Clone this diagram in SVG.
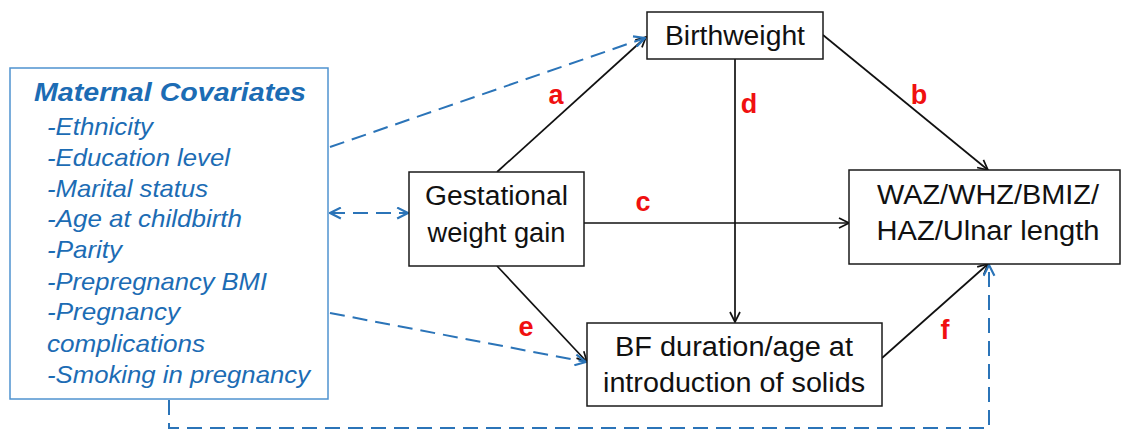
<svg xmlns="http://www.w3.org/2000/svg" width="1124" height="430" viewBox="0 0 1124 430">
  <defs>
    <style>
      .box { fill: #ffffff; stroke: #1a1a1a; stroke-width: 1.5; }
      .cov { fill: #ffffff; stroke: #4f93cf; stroke-width: 1.5; }
      .ntext { font-family: "Liberation Sans", Arial, sans-serif; font-size: 27px; fill: #111111; text-anchor: middle; }
      .ctitle { font-family: "Liberation Sans", Arial, sans-serif; font-size: 26px; font-weight: bold; font-style: italic; fill: #1c6cb4; }
      .citem { font-family: "Liberation Sans", Arial, sans-serif; font-size: 24px; font-style: italic; fill: #1c6cb4; }
      .lbl { font-family: "Liberation Sans", Arial, sans-serif; font-size: 27px; font-weight: bold; fill: #f01010; text-anchor: middle; }
      .solid { fill: none; stroke: #111111; stroke-width: 1.7; marker-end: url(#arrowBlack); }
      .dash { fill: none; stroke: #2b74b8; stroke-width: 2; stroke-dasharray: 15 8; marker-end: url(#arrowBlue); }
    </style>
    <marker id="arrowBlack" viewBox="0 0 12 12" refX="11" refY="6" markerWidth="12" markerHeight="12" markerUnits="userSpaceOnUse" orient="auto-start-reverse">
      <path d="M1,1 L11,6 L1,11" fill="none" stroke="#111111" stroke-width="1.7"/>
    </marker>
    <marker id="arrowBlue" viewBox="0 0 12 12" refX="11" refY="6" markerWidth="13" markerHeight="13" markerUnits="userSpaceOnUse" orient="auto-start-reverse">
      <path d="M1,1 L11,6 L1,11" fill="none" stroke="#2b74b8" stroke-width="2"/>
    </marker>
  </defs>

  <rect width="1124" height="430" fill="#ffffff"/>

  <!-- connectors and path labels -->
  <g id="connectors">
    <line class="solid" x1="497" y1="172" x2="646" y2="37"/>
    <line class="solid" x1="823" y1="35" x2="988" y2="170"/>
    <line class="solid" x1="584" y1="223" x2="849" y2="223"/>
    <line class="solid" x1="735" y1="59" x2="735" y2="322"/>
    <line class="solid" x1="497" y1="266" x2="587" y2="362"/>
    <line class="solid" x1="882" y1="358" x2="988" y2="264"/>
    <line class="dash" x1="330" y1="147" x2="645" y2="38"/>
    <line class="dash" x1="330" y1="313" x2="586" y2="362"/>
    <line class="dash" x1="330" y1="213" x2="408" y2="213" style="marker-start: url(#arrowBlue)"/>
    <path class="dash" d="M169,400 V428 H989 V265"/>
    <text class="lbl" x="556" y="104">a</text>
    <text class="lbl" x="919" y="104">b</text>
    <text class="lbl" x="643" y="211">c</text>
    <text class="lbl" x="749" y="113">d</text>
    <text class="lbl" x="526" y="336">e</text>
    <text class="lbl" x="945" y="339">f</text>
  </g>

  <!-- maternal covariates -->
  <g id="covariates">
    <rect class="cov" x="10" y="68" width="318" height="331"/>
    <text class="ctitle" x="34" y="101" textLength="272" lengthAdjust="spacingAndGlyphs">Maternal Covariates</text>
    <text class="citem" x="47" y="135" textLength="106" lengthAdjust="spacingAndGlyphs">-Ethnicity</text>
    <text class="citem" x="47" y="166" textLength="183" lengthAdjust="spacingAndGlyphs">-Education level</text>
    <text class="citem" x="47" y="197" textLength="161" lengthAdjust="spacingAndGlyphs">-Marital status</text>
    <text class="citem" x="47" y="227" textLength="195" lengthAdjust="spacingAndGlyphs">-Age at childbirth</text>
    <text class="citem" x="47" y="258" textLength="75" lengthAdjust="spacingAndGlyphs">-Parity</text>
    <text class="citem" x="47" y="290" textLength="220" lengthAdjust="spacingAndGlyphs">-Prepregnancy BMI</text>
    <text class="citem" x="47" y="320" textLength="133" lengthAdjust="spacingAndGlyphs">-Pregnancy</text>
    <text class="citem" x="47" y="352" textLength="158" lengthAdjust="spacingAndGlyphs">complications</text>
    <text class="citem" x="47" y="383" textLength="263" lengthAdjust="spacingAndGlyphs">-Smoking in pregnancy</text>
  </g>

  <g id="birthweight">
    <rect class="box" x="647" y="12" width="176" height="47"/>
    <text class="ntext" x="735" y="45" textLength="140" lengthAdjust="spacingAndGlyphs">Birthweight</text>
  </g>

  <g id="gestational">
    <rect class="box" x="409" y="172" width="175" height="94"/>
    <text class="ntext" x="496.5" y="205" textLength="143" lengthAdjust="spacingAndGlyphs">Gestational</text>
    <text class="ntext" x="496.5" y="242" textLength="138" lengthAdjust="spacingAndGlyphs">weight gain</text>
  </g>

  <g id="outcomes">
    <rect class="box" x="849" y="170" width="271" height="94"/>
    <text class="ntext" x="988" y="204" textLength="222" lengthAdjust="spacingAndGlyphs">WAZ/WHZ/BMIZ/</text>
    <text class="ntext" x="988" y="240" textLength="223" lengthAdjust="spacingAndGlyphs">HAZ/Ulnar length</text>
  </g>

  <g id="feeding">
    <rect class="box" x="587" y="323" width="295" height="83"/>
    <text class="ntext" x="734" y="356" textLength="238" lengthAdjust="spacingAndGlyphs">BF duration/age at</text>
    <text class="ntext" x="734" y="392" textLength="262" lengthAdjust="spacingAndGlyphs">introduction of solids</text>
  </g>
</svg>
